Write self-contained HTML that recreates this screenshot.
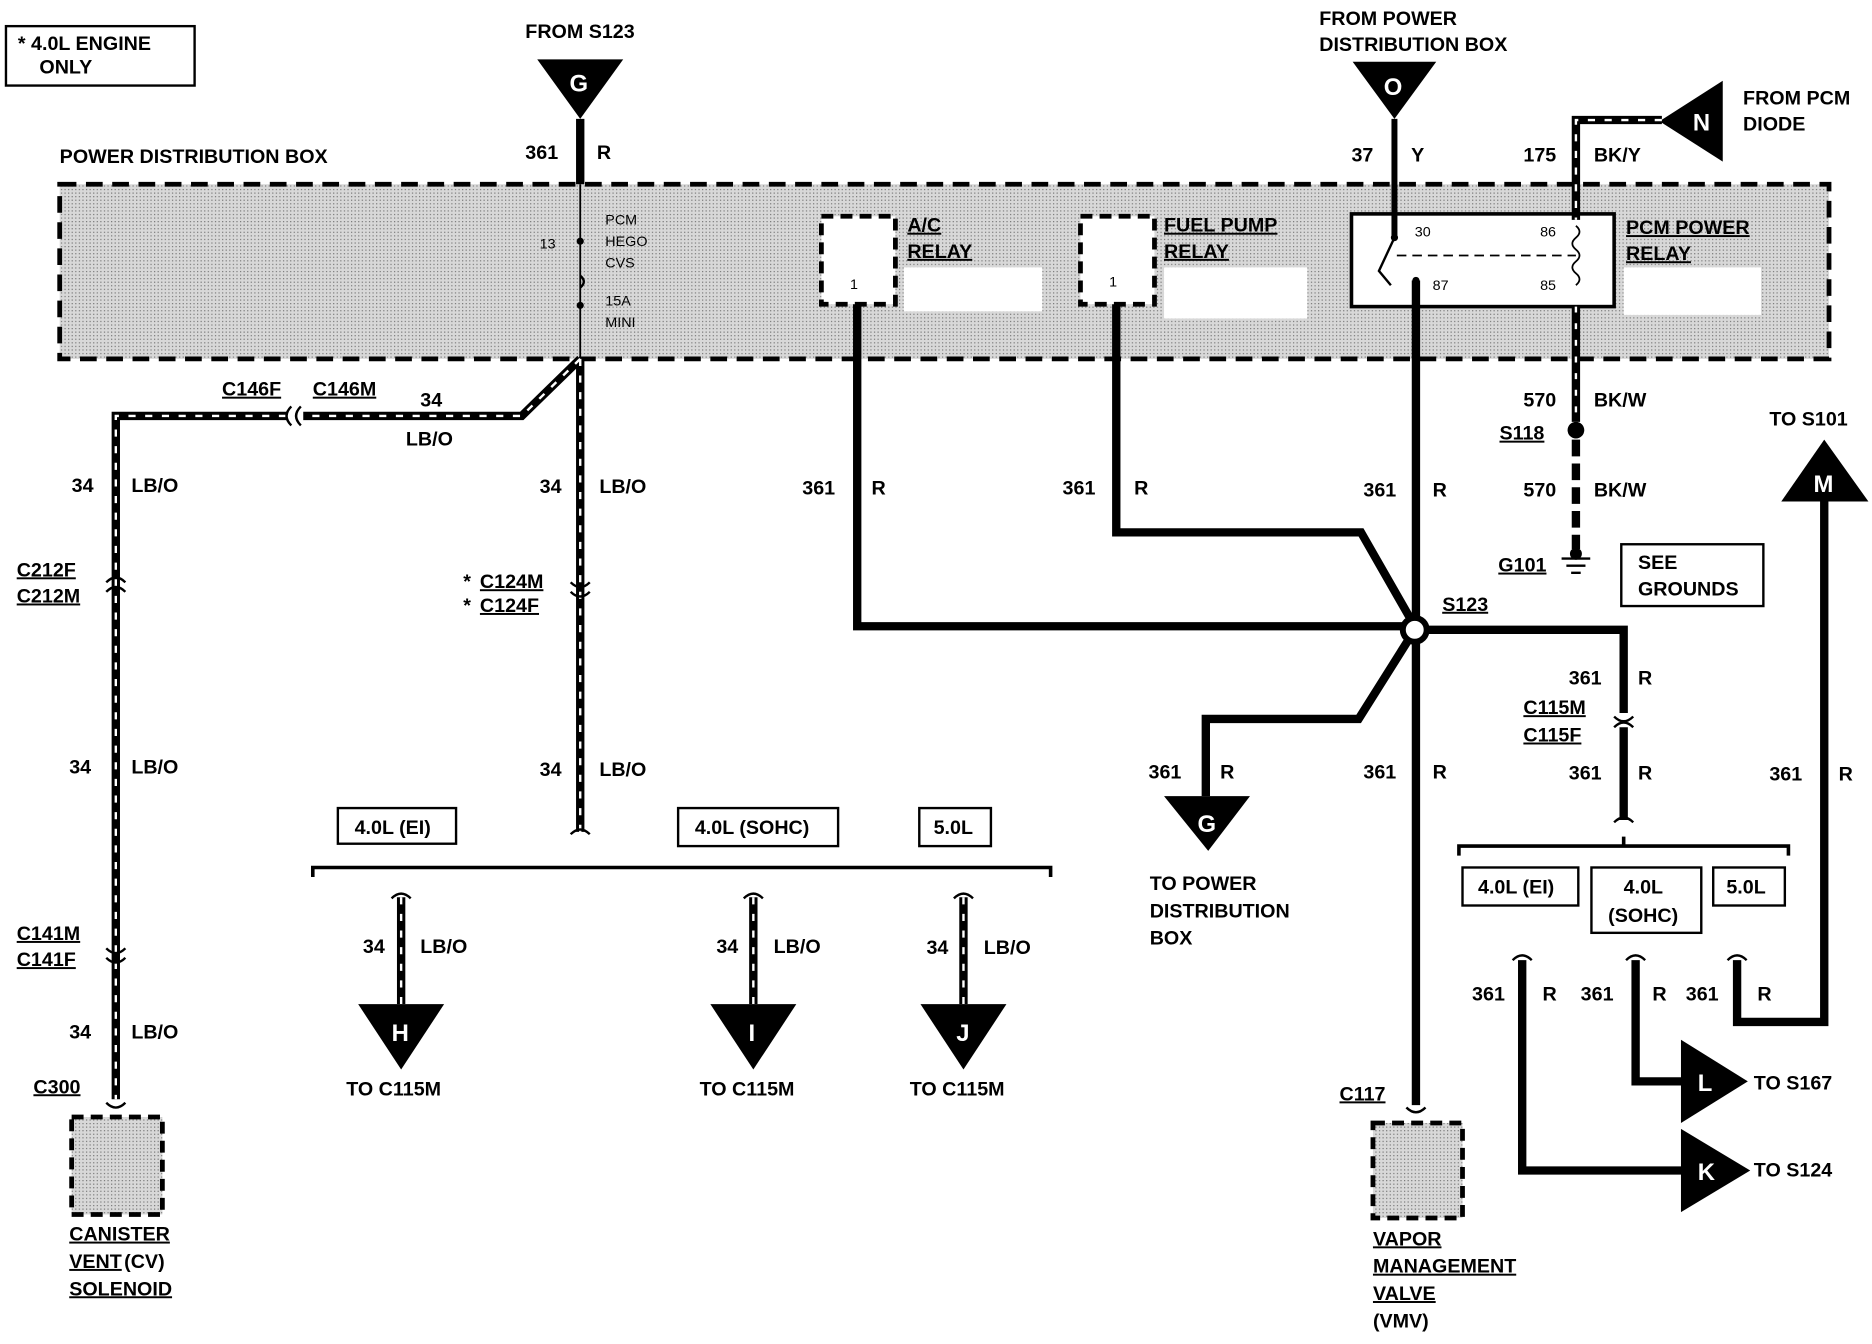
<!DOCTYPE html>
<html><head><meta charset="utf-8"><style>
html,body{margin:0;padding:0;background:#fff;}
svg{display:block;}
text{font-family:"Liberation Sans",sans-serif;font-weight:bold;font-size:16.5px;fill:#000;}
.s{font-size:12px;font-weight:normal;}
.w{fill:#fff;font-size:20px;}
.u{text-decoration:underline;}
</style></head><body>
<svg width="1872" height="1344" viewBox="0 0 1568 1131" preserveAspectRatio="none" xmlns="http://www.w3.org/2000/svg">
<defs>
<pattern id="dots" width="3" height="3" patternUnits="userSpaceOnUse"><rect width="3" height="3" fill="#d8d8d8"/><rect width="1" height="1" fill="#777"/></pattern>
</defs>
<rect x="5" y="22" width="158" height="50" fill="none" stroke="#000" stroke-width="2"/>
<text x="15" y="42">* 4.0L ENGINE</text><text x="33" y="62">ONLY</text>

<text x="50" y="137">POWER DISTRIBUTION BOX</text>
<rect x="50" y="155" width="1482" height="147" fill="url(#dots)" stroke="#000" stroke-width="4" stroke-dasharray="14,8"/>
<rect x="757" y="225" width="116" height="37" fill="#fff"/>
<rect x="975" y="225" width="120" height="43" fill="#fff"/>
<rect x="1360" y="225" width="115" height="40" fill="#fff"/>
<rect x="688" y="182" width="62" height="74" fill="#fff" stroke="#000" stroke-width="4" stroke-dasharray="10,6"/>
<text x="712" y="243" class="s">1</text>
<text x="760" y="195" class="u">A/C</text><text x="760" y="217" class="u">RELAY</text>
<rect x="905" y="182" width="62" height="74" fill="#fff" stroke="#000" stroke-width="4" stroke-dasharray="10,6"/>
<text x="929" y="241" class="s">1</text>
<text x="975" y="195" class="u">FUEL PUMP</text><text x="975" y="217" class="u">RELAY</text>
<rect x="1132" y="180" width="220" height="78" fill="#fff" stroke="#000" stroke-width="3"/>
<text x="1362" y="197" class="u">PCM POWER</text><text x="1362" y="219" class="u">RELAY</text>
<text x="1185" y="199" class="s">30</text><text x="1290" y="199" class="s">86</text>
<text x="1200" y="244" class="s">87</text><text x="1290" y="244" class="s">85</text>
<line x1="1170" y1="215" x2="1320" y2="215" stroke="#000" stroke-width="1.5" stroke-dasharray="8,5"/>
<path d="M1168 200 L1155 228 L1165 240" fill="none" stroke="#000" stroke-width="2"/>
<circle cx="1168" cy="200" r="3"/><circle cx="1186" cy="236" r="3"/>
<path d="M1320 190 q6 5 0 10 q-6 5 0 10 q6 5 0 10 q-6 5 0 10 q6 5 0 10" fill="none" stroke="#000" stroke-width="1.5"/>

<line x1="486" y1="155" x2="486" y2="300" stroke="#000" stroke-width="1.5"/>
<circle cx="486" cy="203" r="3"/><circle cx="486" cy="257" r="3"/>
<path d="M486 232 q6 5 0 10" fill="none" stroke="#000" stroke-width="2"/>
<text x="507" y="189" class="s">PCM</text><text x="507" y="207" class="s">HEGO</text><text x="507" y="225" class="s">CVS</text>
<text x="507" y="257" class="s">15A</text><text x="507" y="275" class="s">MINI</text>
<text x="452" y="209" class="s">13</text>

<text x="440" y="32">FROM S123</text>
<polygon points="450,50 522,50 486,100"/><text x="477" y="77" class="w">G</text>
<line x1="486" y1="100" x2="486" y2="155" stroke="#000" stroke-width="7"/>
<text x="440" y="134">361</text><text x="500" y="134">R</text>

<text x="1105" y="21">FROM POWER</text><text x="1105" y="43">DISTRIBUTION BOX</text>
<polygon points="1133,52 1203,52 1168,100"/><text x="1159" y="80" class="w">O</text>
<line x1="1168" y1="100" x2="1168" y2="200" stroke="#000" stroke-width="5"/>
<text x="1132" y="136">37</text><text x="1182" y="136">Y</text>

<polygon points="1443,68 1443,136 1390,102"/><text x="1418" y="110" class="w">N</text>
<text x="1460" y="88">FROM PCM</text><text x="1460" y="110">DIODE</text>
<path d="M1392 101 L1320 101 L1320 185" fill="none" stroke="#000" stroke-width="7"/>
<path d="M1392 101 L1320 101 L1320 185" fill="none" stroke="#fff" stroke-width="2" stroke-dasharray="6,8"/>
<text x="1276" y="136">175</text><text x="1335" y="136">BK/Y</text>

<line x1="1320" y1="258" x2="1320" y2="355" stroke="#000" stroke-width="7"/>
<line x1="1320" y1="258" x2="1320" y2="355" stroke="#fff" stroke-width="2" stroke-dasharray="5,9"/>
<circle cx="1320" cy="362" r="7"/>
<line x1="1320" y1="370" x2="1320" y2="462" stroke="#000" stroke-width="7" stroke-dasharray="14,6"/>
<path d="M1308 470 h24 M1312 476 h16 M1316 482 h8" stroke="#000" stroke-width="2"/>
<circle cx="1320" cy="466" r="5"/>
<text x="1276" y="342">570</text><text x="1335" y="342">BK/W</text>
<text x="1256" y="370" class="u">S118</text>
<text x="1276" y="418">570</text><text x="1335" y="418">BK/W</text>
<text x="1255" y="481" class="u">G101</text>
<rect x="1358" y="458" width="119" height="52" fill="none" stroke="#000" stroke-width="2"/>
<text x="1372" y="479">SEE</text><text x="1372" y="501">GROUNDS</text>

<g fill="none" stroke="#000" stroke-width="7">
<path d="M718 256 L718 527 L1185 527"/>
<path d="M935 256 L935 448 L1140 448 L1185 527"/>
<path d="M1186 236 L1186 930"/>
<path d="M1185 530 L1360 530 L1360 600"/>
<path d="M1360 612 L1360 690"/>
<path d="M1185 530 L1138 605 L1010 605 L1010 670"/>
<path d="M1528 420 L1528 860 L1455 860 L1455 808"/>
<path d="M1370 808 L1370 910 L1410 910"/>
<path d="M1275 808 L1275 985 L1410 985"/>
</g>
<circle cx="1185" cy="530" r="10" fill="#fff" stroke="#000" stroke-width="5"/>
<text x="1208" y="514" class="u">S123</text>
<text x="672" y="416">361</text><text x="730" y="416">R</text>
<text x="890" y="416">361</text><text x="950" y="416">R</text>
<text x="1142" y="418">361</text><text x="1200" y="418">R</text>
<text x="1314" y="576">361</text><text x="1372" y="576">R</text>
<text x="1276" y="601" class="u">C115M</text><text x="1276" y="624" class="u">C115F</text>
<path d="M1352 603 q8 8 16 0 M1352 612 q8 -8 16 0" fill="none" stroke="#000" stroke-width="2"/>
<text x="1314" y="656">361</text><text x="1372" y="656">R</text>
<path d="M1352 692 q8 -8 16 0" fill="none" stroke="#000" stroke-width="2"/>
<text x="962" y="655">361</text><text x="1022" y="655">R</text>
<text x="1142" y="655">361</text><text x="1200" y="655">R</text>
<polygon points="975,670 1047,670 1012,716"/><text x="1003" y="700" class="w">G</text>
<text x="963" y="749">TO POWER</text><text x="963" y="772">DISTRIBUTION</text><text x="963" y="795">BOX</text>
<text x="1122" y="926" class="u">C117</text>
<path d="M1178 932 q8 8 16 0" fill="none" stroke="#000" stroke-width="2"/>
<rect x="1150" y="945" width="75" height="80" fill="url(#dots)" stroke="#000" stroke-width="4" stroke-dasharray="10,6"/>
<text x="1150" y="1048" class="u">VAPOR</text><text x="1150" y="1071" class="u">MANAGEMENT</text>
<text x="1150" y="1094" class="u">VALVE</text><text x="1150" y="1117">(VMV)</text>

<path d="M1222 720 L1222 712 L1498 712 L1498 720 M1360 712 L1360 704" fill="none" stroke="#000" stroke-width="3"/>
<rect x="1225" y="730" width="97" height="32" fill="none" stroke="#000" stroke-width="2"/><text x="1238" y="752">4.0L (EI)</text>
<rect x="1333" y="730" width="92" height="55" fill="none" stroke="#000" stroke-width="2"/><text x="1360" y="752">4.0L</text><text x="1347" y="776">(SOHC)</text>
<rect x="1435" y="730" width="60" height="32" fill="none" stroke="#000" stroke-width="2"/><text x="1446" y="752">5.0L</text>
<path d="M1267 808 q8 -8 16 0 M1362 808 q8 -8 16 0 M1447 808 q8 -8 16 0" fill="none" stroke="#000" stroke-width="2"/>
<text x="1233" y="842">361</text><text x="1292" y="842">R</text>
<text x="1324" y="842">361</text><text x="1384" y="842">R</text>
<text x="1412" y="842">361</text><text x="1472" y="842">R</text>
<text x="1482" y="657">361</text><text x="1540" y="657">R</text>
<polygon points="1492,422 1565,422 1528,370"/><text x="1519" y="414" class="w">M</text>
<text x="1482" y="358">TO S101</text>
<polygon points="1408,875 1408,945 1464,910"/><text x="1422" y="918" class="w">L</text>
<text x="1469" y="917">TO S167</text>
<polygon points="1408,950 1408,1020 1466,985"/><text x="1422" y="993" class="w">K</text>
<text x="1469" y="990">TO S124</text>

<g fill="none" stroke="#000" stroke-width="7">
<path d="M486 302 L437 350 L97 350 L97 925"/>
<path d="M486 302 L486 700"/>
<path d="M336 755 L336 845 M631 755 L631 845 M807 755 L807 845"/>
</g>
<g fill="none" stroke="#fff" stroke-width="2" stroke-dasharray="6,8">
<path d="M486 302 L437 350 L97 350 L97 925"/>
<path d="M486 302 L486 700"/>
<path d="M336 755 L336 845 M631 755 L631 845 M807 755 L807 845"/>
</g>
<rect x="240" y="343" width="14" height="14" fill="#fff"/>
<path d="M252 342 q-8 8 0 16 M244 342 q-8 8 0 16" fill="none" stroke="#000" stroke-width="2"/>
<text x="186" y="333" class="u">C146F</text><text x="262" y="333" class="u">C146M</text>
<text x="352" y="342">34</text><text x="340" y="375">LB/O</text>
<text x="60" y="414">34</text><text x="110" y="414">LB/O</text>
<text x="452" y="415">34</text><text x="502" y="415">LB/O</text>
<path d="M89 490 q8 -8 16 0 M89 498 q8 -8 16 0" fill="none" stroke="#000" stroke-width="2"/>
<text x="14" y="485" class="u">C212F</text><text x="14" y="507" class="u">C212M</text>
<path d="M478 490 q8 8 16 0 M478 498 q8 8 16 0" fill="none" stroke="#000" stroke-width="2"/>
<text x="388" y="495">*</text><text x="402" y="495" class="u">C124M</text>
<text x="388" y="515">*</text><text x="402" y="515" class="u">C124F</text>
<text x="58" y="651">34</text><text x="110" y="651">LB/O</text>
<text x="452" y="653">34</text><text x="502" y="653">LB/O</text>
<path d="M89 798 q8 8 16 0 M89 806 q8 8 16 0" fill="none" stroke="#000" stroke-width="2"/>
<text x="14" y="791" class="u">C141M</text><text x="14" y="813" class="u">C141F</text>
<text x="58" y="874">34</text><text x="110" y="874">LB/O</text>
<text x="28" y="920" class="u">C300</text>
<path d="M89 928 q8 8 16 0" fill="none" stroke="#000" stroke-width="2"/>
<rect x="60" y="940" width="76" height="82" fill="url(#dots)" stroke="#000" stroke-width="4" stroke-dasharray="10,6"/>
<text x="58" y="1044" class="u">CANISTER</text><text x="58" y="1067" class="u">VENT</text><text x="104" y="1067">(CV)</text>
<text x="58" y="1090" class="u">SOLENOID</text>

<path d="M262 738 L262 730 L880 730 L880 738" fill="none" stroke="#000" stroke-width="3"/>
<path d="M478 702 q8 -8 16 0" fill="none" stroke="#000" stroke-width="2"/>
<rect x="283" y="680" width="99" height="30" fill="none" stroke="#000" stroke-width="2"/><text x="297" y="702">4.0L (EI)</text>
<rect x="568" y="680" width="134" height="32" fill="none" stroke="#000" stroke-width="2"/><text x="582" y="702">4.0L (SOHC)</text>
<rect x="770" y="680" width="60" height="32" fill="none" stroke="#000" stroke-width="2"/><text x="782" y="702">5.0L</text>
<path d="M328 756 q8 -8 16 0 M623 756 q8 -8 16 0 M799 756 q8 -8 16 0" fill="none" stroke="#000" stroke-width="2"/>
<text x="304" y="802">34</text><text x="352" y="802">LB/O</text>
<text x="600" y="802">34</text><text x="648" y="802">LB/O</text>
<text x="776" y="803">34</text><text x="824" y="803">LB/O</text>
<polygon points="300,845 372,845 336,900"/><text x="328" y="876" class="w">H</text>
<polygon points="595,845 667,845 631,900"/><text x="627" y="876" class="w">I</text>
<polygon points="771,845 843,845 807,900"/><text x="801" y="876" class="w">J</text>
<text x="290" y="922">TO C115M</text><text x="586" y="922">TO C115M</text><text x="762" y="922">TO C115M</text>
</svg>
</body></html>
